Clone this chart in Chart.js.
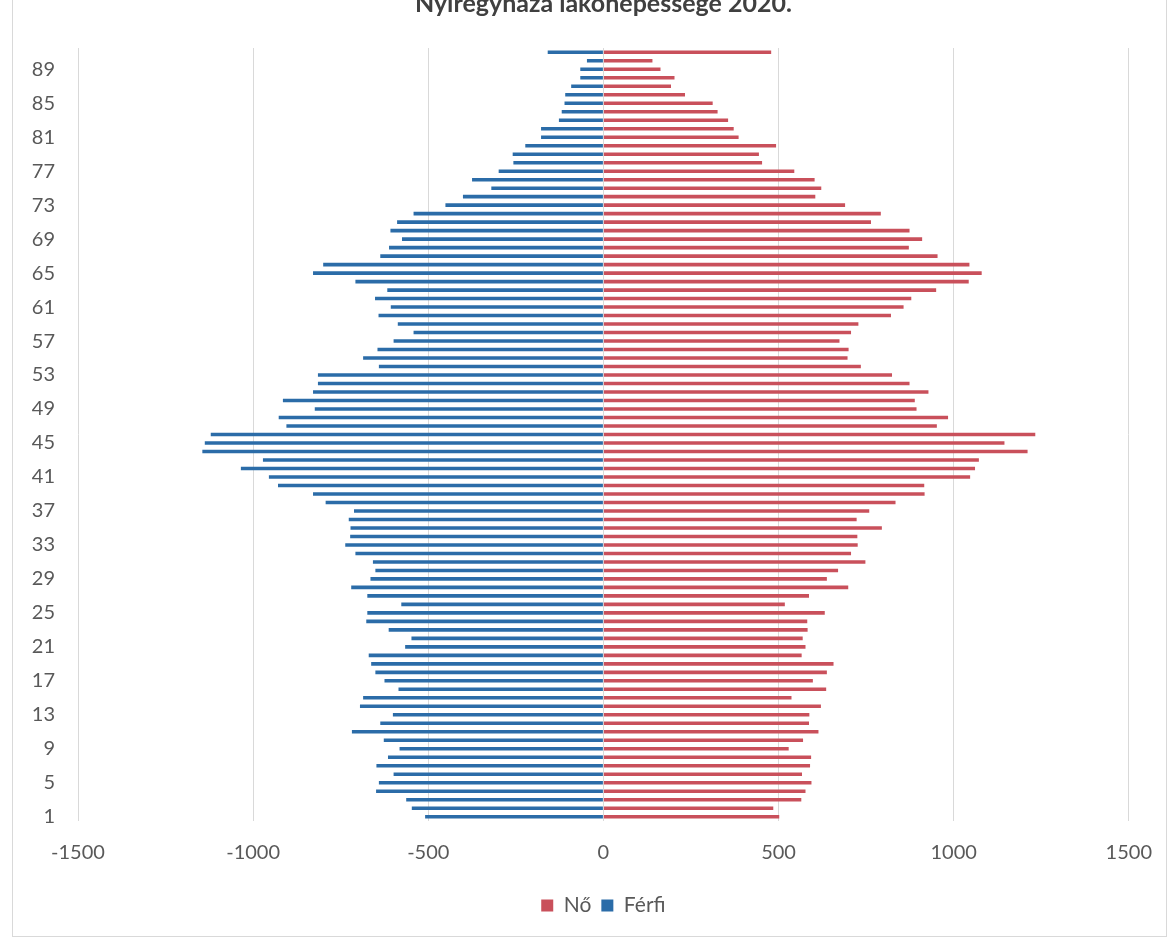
<!DOCTYPE html>
<html>
<head>
<meta charset="utf-8">
<script src="https://cdn.jsdelivr.net/npm/chart.js@4"></script>
<style>
  body { margin: 0; background: #fff; overflow: hidden; }
  #frame { position: absolute; left: 12px; top: -10px; width: 1153px; height: 945px; border: 1px solid #d9d9d9; }
  #wrap { position: absolute; left: 0; top: -22px; width: 1172px; height: 962px; }
</style>
</head>
<body>
<div id="frame"></div>
<div id="wrap"><canvas id="pyramid" width="1172" height="962"></canvas></div>
<script>
// age groups, bottom to top
const ages = [1, 2, 3, 4, 5, 6, 7, 8, 9, 10, 11, 12, 13, 14, 15, 16, 17, 18, 19, 20,
    21, 22, 23, 24, 25, 26, 27, 28, 29, 30, 31, 32, 33, 34, 35, 36, 37, 38, 39, 40,
    41, 42, 43, 44, 45, 46, 47, 48, 49, 50, 51, 52, 53, 54, 55, 56, 57, 58, 59, 60,
    61, 62, 63, 64, 65, 66, 67, 68, 69, 70, 71, 72, 73, 74, 75, 76, 77, 78, 79, 80,
    81, 82, 83, 84, 85, 86, 87, 88, 89, 90, 91];

// women (right side)
const noValues = [502, 485, 565, 577, 594, 567, 590, 593, 529, 570,
    614, 587, 588, 621, 537, 636, 598, 638, 657, 566,
    577, 569, 583, 582, 632, 518, 587, 699, 638, 670,
    748, 707, 726, 725, 795, 723, 759, 834, 917, 916,
    1047, 1061, 1072, 1211, 1145, 1233, 952, 984, 894, 889,
    928, 874, 824, 735, 697, 700, 674, 707, 728, 821,
    857, 879, 950, 1043, 1080, 1045, 954, 872, 910, 874,
    764, 792, 690, 605, 622, 603, 545, 453, 444, 493,
    386, 372, 356, 326, 312, 233, 193, 203, 163, 140, 479];

// men (left side, negative)
const ferfiValues = [-509, -547, -563, -649, -641, -599, -648, -615, -582, -627,
    -718, -637, -601, -695, -686, -585, -625, -651, -663, -670,
    -566, -548, -613, -677, -674, -577, -674, -720, -665, -651,
    -658, -708, -737, -723, -722, -727, -712, -793, -829, -929,
    -955, -1035, -972, -1145, -1138, -1121, -905, -927, -824, -915,
    -829, -815, -815, -641, -686, -645, -599, -542, -587, -642,
    -607, -652, -617, -708, -829, -800, -637, -612, -575, -608,
    -589, -542, -451, -401, -320, -375, -299, -257, -259, -223,
    -178, -178, -127, -119, -111, -109, -92, -66, -66, -47, -159];

const xTicks = [-1500, -1000, -500, 0, 500, 1000, 1500];

Chart.defaults.font.family = 'Lato, "Liberation Sans", sans-serif';
Chart.defaults.color = '#595959';

const ctx = document.getElementById('pyramid').getContext('2d');
new Chart(ctx, {
    type: 'bar',
    data: {
        labels: ages,
        datasets: [{
            label: 'Nő',
            data: noValues,
            backgroundColor: '#c9505b',
            barPercentage: 0.42,
            categoryPercentage: 1.0
        }, {
            label: 'Férfi',
            data: ferfiValues,
            backgroundColor: '#2b6ca8',
            barPercentage: 0.42,
            categoryPercentage: 1.0
        }]
    },
    options: {
        responsive: false,
        animation: false,
        indexAxis: 'y',
        layout: { padding: { left: 8, right: 42, top: 0, bottom: 14 } },
        plugins: {
            title: {
                display: true,
                fullSize: false,
                text: 'Nyíregyháza lakónépessége 2020.',
                color: '#404040',
                font: { size: 25, weight: 'bold' },
                padding: { top: 11, bottom: 29 }
            },
            legend: {
                position: 'bottom',
                fullSize: false,
                labels: {
                    boxWidth: 12,
                    boxHeight: 12,
                    font: { size: 21 },
                    color: '#595959'
                }
            },
            tooltip: { enabled: false }
        },
        scales: {
            x: {
                stacked: true,
                min: -1500,
                max: 1500,
                afterBuildTicks: scale => { scale.ticks = xTicks.map(v => ({ value: v })); },
                afterFit: scale => { scale.height = 64; },
                grid: { color: '#d9d9d9', drawTicks: false },
                border: { display: false },
                ticks: {
                    padding: 20,
                    font: { size: 20 },
                    callback: v => String(v)
                }
            },
            y: {
                stacked: true,
                reverse: true,
                afterFit: scale => { scale.width = 70; },
                grid: { display: false, drawTicks: false },
                border: { display: false },
                ticks: {
                    autoSkip: false,
                    padding: 23,
                    font: { size: 20 },
                    callback: function(value, index) {
                        return (index % 4 === 0) ? String(ages[index]) : '';
                    }
                }
            }
        }
    }
});
</script>
</body>
</html>
